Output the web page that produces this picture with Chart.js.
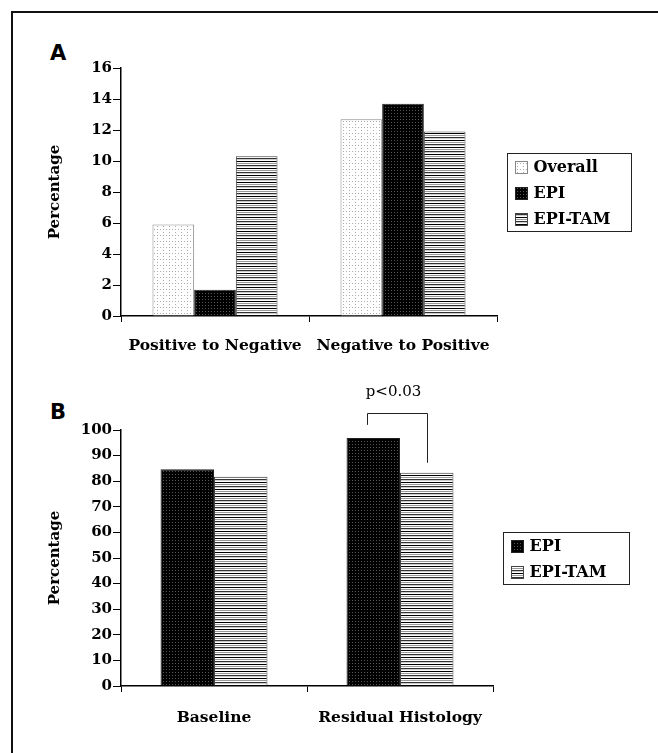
<!DOCTYPE html>
<html>
<head>
<meta charset="utf-8">
<script src="https://cdn.jsdelivr.net/npm/chart.js@4.4.0/dist/chart.umd.min.js"></script>
<style>
    body { margin: 0; background: #fff; }
    #wrap { position: relative; width: 658px; height: 753px; overflow: hidden; background: #fff; }
    #frame { position: absolute; left: 11px; top: 11px; width: 700px; height: 800px;
             border-top: 2px solid #111; border-left: 2px solid #111; }
    .panel { position: absolute; font: bold 21px "DejaVu Sans", Arial, sans-serif; color: #000; }
    canvas { position: absolute; left: 0; }
</style>
</head>
<body>
<div id="wrap">
    <div id="frame"></div>
    <div class="panel" style="left:50px; top:41px">A</div>
    <div class="panel" style="left:50px; top:400px">B</div>
    <canvas id="chartA" width="658" height="370" style="top:0"></canvas>
    <canvas id="chartB" width="658" height="370" style="top:370px"></canvas>
</div>
<script>
// panel A: change in status
const changeCategories = ['Positive to Negative', 'Negative to Positive'];
const overallChange = [5.9, 12.7];
const epiChange = [1.7, 13.7];
const epiTamChange = [10.3, 11.9];
const changeMax = 16, changeStep = 2;

// panel B: histology
const histologyCategories = ['Baseline', 'Residual Histology'];
const epiHistology = [84.7, 96.9];
const epiTamHistology = [81.7, 83.3];
const histologyMax = 100, histologyStep = 10;

const SERIF = '"DejaVu Serif", "Liberation Serif", serif';

// little tiles that mimic the scanned fills
function makePattern(kind) {
    const c = document.createElement('canvas');
    const g = c.getContext('2d');
    if (kind === 'dots') {
        c.width = 6; c.height = 6;
        g.fillStyle = '#fff'; g.fillRect(0, 0, 6, 6);
        g.fillStyle = '#aaa';
        g.fillRect(1, 1, 1, 1); g.fillRect(4, 1, 1, 1); g.fillRect(1, 4, 1, 1);
    } else if (kind === 'dark') {
        c.width = 3; c.height = 3;
        g.fillStyle = '#000'; g.fillRect(0, 0, 3, 3);
        g.fillStyle = '#555'; g.fillRect(1, 2, 1, 1);
    } else {
        const rows = ['#000', '#fff', '#999', '#fff', '#333', '#ccc', '#fff'];
        c.width = 1; c.height = rows.length;
        rows.forEach((col, i) => { g.fillStyle = col; g.fillRect(0, i, 1, 1); });
    }
    return g.createPattern(c, 'repeat');
}

// framed legend to the right of the plot, like the old spreadsheet style
const boxLegend = {
    id: 'boxLegend',
    afterDraw(chart, args, opts) {
        const ctx = chart.ctx;
        const area = chart.chartArea;
        const items = chart.data.datasets;
        const rowH = 26;
        const left = Math.round(area.right + 10) + 0.5;
        const height = items.length * rowH;
        const top = Math.round((area.top + area.bottom) / 2 - height / 2) + 0.5;
        ctx.save();
        ctx.strokeStyle = '#222';
        ctx.lineWidth = 1;
        ctx.strokeRect(left, top, opts.width, height);
        ctx.font = 'bold 16px ' + SERIF;
        ctx.textBaseline = 'middle';
        items.forEach((ds, i) => {
            const cy = Math.round(top + 13 + i * rowH);
            ctx.fillStyle = ds.backgroundColor;
            ctx.fillRect(left + 8, cy - 6, 12, 12);
            ctx.strokeStyle = ds.borderColor;
            ctx.strokeRect(left + 8, cy - 6 + 0.5, 12, 12);
            ctx.fillStyle = '#000';
            ctx.fillText(ds.label, left + 26, cy + 1);
        });
        ctx.restore();
    }
};

const pBracket = {
    id: 'pBracket',
    afterDatasetsDraw(chart) {
        const y = chart.scales.y;
        const a = chart.getDatasetMeta(0).data[1];
        const b = chart.getDatasetMeta(1).data[1];
        const top = Math.round(y.getPixelForValue(106.8)) + 0.5;
        const x1 = Math.round(a.x - 6) + 0.5, x2 = Math.round(b.x) + 0.5;
        const ctx = chart.ctx;
        ctx.save();
        ctx.strokeStyle = '#222';
        ctx.lineWidth = 1;
        ctx.beginPath();
        ctx.moveTo(x1, y.getPixelForValue(102));
        ctx.lineTo(x1, top);
        ctx.lineTo(x2, top);
        ctx.lineTo(x2, y.getPixelForValue(87.2));
        ctx.stroke();
        ctx.fillStyle = '#000';
        ctx.font = '15px ' + SERIF;
        ctx.textAlign = 'center';
        ctx.textBaseline = 'middle';
        ctx.fillText('p<0.03', (x1 + x2) / 2 - 4, top - 21);
        ctx.restore();
    }
};

function barOptions(max, step, padTop, padRight, legendWidth, labelGap) {
    return {
        responsive: false,
        animation: false,
        devicePixelRatio: 1,
        layout: { padding: { top: padTop, left: 40, right: padRight, bottom: 0 } },
        plugins: {
            legend: { display: false },
            tooltip: { enabled: false },
            boxLegend: { width: legendWidth },
        },
        scales: {
            x: {
                grid: { drawOnChartArea: false, tickLength: 6, color: '#000', offset: true },
                border: { color: '#000', width: 1.5 },
                ticks: { color: '#000', font: { family: SERIF, weight: 'bold', size: 15.5 },
                         padding: labelGap, maxRotation: 0, autoSkip: false },
                afterFit: (s) => { s.height = 54; },
            },
            y: {
                min: 0,
                max: max,
                ticks: { stepSize: step, color: '#000', font: { family: SERIF, weight: 'bold', size: 15 }, padding: 1 },
                grid: { drawOnChartArea: false, tickLength: 8, color: '#000' },
                border: { color: '#000', width: 1.5 },
                title: {
                    display: true,
                    text: 'Percentage',
                    color: '#000',
                    font: { family: SERIF, weight: 'bold', size: 15 },
                    padding: { top: 6, bottom: 4 },
                },
                afterFit: (s) => { s.width = 81; },
            },
        },
    };
}

const dots = makePattern('dots');
const dark = makePattern('dark');
const stripes = makePattern('stripes');

new Chart(document.getElementById('chartA').getContext('2d'), {
    type: 'bar',
    data: {
        labels: changeCategories,
        datasets: [
            { label: 'Overall', data: overallChange, backgroundColor: dots, borderColor: '#888', borderWidth: 1,
              barPercentage: 1, categoryPercentage: 0.665 },
            { label: 'EPI', data: epiChange, backgroundColor: dark, borderColor: '#222', borderWidth: 1,
              barPercentage: 1, categoryPercentage: 0.665 },
            { label: 'EPI-TAM', data: epiTamChange, backgroundColor: stripes, borderColor: '#444', borderWidth: 1,
              barPercentage: 1, categoryPercentage: 0.665 },
        ],
    },
    options: barOptions(changeMax, changeStep, 68, 161, 124, 15),
    plugins: [boxLegend],
});

new Chart(document.getElementById('chartB').getContext('2d'), {
    type: 'bar',
    data: {
        labels: histologyCategories,
        datasets: [
            { label: 'EPI', data: epiHistology, backgroundColor: dark, borderColor: '#222', borderWidth: 1,
              barPercentage: 1, categoryPercentage: 0.575 },
            { label: 'EPI-TAM', data: epiTamHistology, backgroundColor: stripes, borderColor: '#444', borderWidth: 1,
              barPercentage: 1, categoryPercentage: 0.575 },
        ],
    },
    options: barOptions(histologyMax, histologyStep, 60, 165, 126, 17),
    plugins: [boxLegend, pBracket],
});
</script>
</body>
</html>
